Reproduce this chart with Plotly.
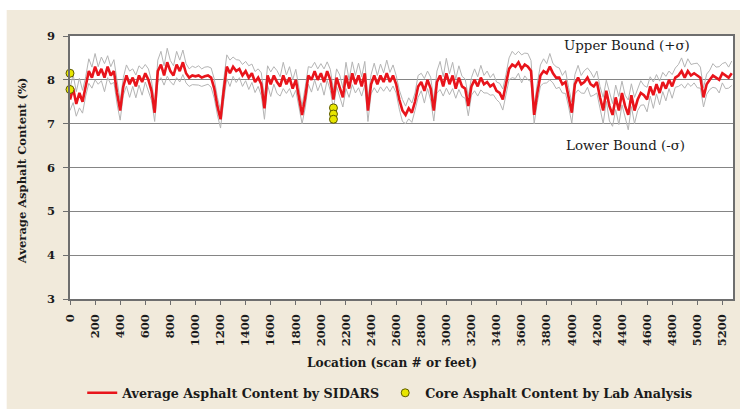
import numpy as np
import plotly.graph_objects as go

# SIDARS scan: average asphalt content sampled every 25 ft
SCAN_STEP_FT = 25
avg_content = [
    7.55, 7.8, 7.45, 7.7, 7.5,
    7.85, 8.2, 8.05, 8.3, 8.1, 8.25, 8.05, 8.3, 8.1, 8.2,
    7.7, 7.3, 7.85,
    8.1, 7.9, 8.05, 7.85, 8.1, 7.95, 8.15, 8.0,
    7.75, 7.25,
    8.2, 8.35, 8.1, 8.4, 8.2, 8.1, 8.35, 8.2, 8.4, 8.15,
    8.05, 8.1, 8.08, 8.1, 8.05, 8.08, 8.1, 8.05,
    7.8, 7.4, 7.1,
    7.75, 8.3, 8.15, 8.3, 8.2, 8.25, 8.1, 8.2, 8.05, 8.15,
    7.95, 8.05, 7.9,
    7.35,
    8.1, 7.9, 8.1, 7.95, 7.85, 8.1, 7.9, 8.05, 7.8, 8.0,
    7.6, 7.2,
    7.6, 8.1, 8.0, 8.2, 8.0, 8.15, 7.95, 8.2, 8.0,
    7.55,
    8.05, 7.85, 7.6, 8.1, 7.8, 8.15, 7.9, 8.1, 7.85, 8.15,
    7.3,
    7.9, 8.1, 7.9, 8.1, 7.95, 8.15, 7.95, 8.1, 7.9,
    7.55, 7.3, 7.2, 7.35, 7.25, 7.5,
    7.85, 7.95, 7.75, 8.0, 7.8,
    7.3,
    7.95, 8.1, 7.85, 8.15, 7.9, 8.1, 7.8, 8.05, 7.85,
    7.8, 7.4,
    7.85, 8.0, 7.85, 8.05, 7.9, 7.95, 7.85, 7.9, 7.75, 7.7,
    7.55,
    7.9,
    8.25, 8.35, 8.3, 8.4, 8.25, 8.35, 8.3, 8.2,
    7.2,
    7.7,
    8.1, 8.2, 8.15, 8.3, 8.15, 8.05,
    8.05, 7.9, 7.95, 7.6,
    7.25,
    7.9, 8.05, 7.9, 7.95, 8.05, 7.9, 7.85, 7.95,
    7.6, 7.3, 7.75, 7.4, 7.2, 7.6, 7.3, 7.7, 7.4, 7.2, 7.65, 7.3, 7.55, 7.7,
    7.65, 7.55, 7.85, 7.65, 7.9, 7.7, 7.95, 7.8, 8.0, 7.85, 8.05,
    8.1, 8.2, 8.05, 8.2, 8.1, 8.15, 8.1, 8.05,
    7.6,
    7.9,
    8.0, 8.1, 8.05, 8.0, 8.15, 8.1, 8.05, 8.15,
]

# standard deviation of each scan (bounds are average +/- sigma)
sigma = [
    0.25, 0.32, 0.28, 0.34, 0.26,
    0.22, 0.28, 0.24, 0.3, 0.2, 0.27, 0.32, 0.25, 0.2, 0.26,
    0.25, 0.22, 0.2,
    0.24, 0.3, 0.2, 0.26, 0.22, 0.3, 0.2, 0.25,
    0.22, 0.2,
    0.25, 0.3, 0.22, 0.32, 0.24, 0.22, 0.3, 0.25, 0.28, 0.22,
    0.2, 0.21, 0.2, 0.22, 0.2, 0.21, 0.2, 0.22,
    0.22, 0.2, 0.2,
    0.24, 0.27, 0.3, 0.22, 0.26, 0.2, 0.25, 0.22, 0.27, 0.21,
    0.24, 0.2, 0.26,
    0.25,
    0.22, 0.28, 0.2, 0.26, 0.22, 0.3, 0.21, 0.25, 0.2, 0.24,
    0.22, 0.2,
    0.24, 0.2, 0.28, 0.2, 0.25, 0.22, 0.3, 0.21, 0.24,
    0.22,
    0.2, 0.26, 0.22, 0.3, 0.2, 0.26, 0.2, 0.28, 0.22, 0.27,
    0.25,
    0.22, 0.28, 0.2, 0.26, 0.21, 0.3, 0.22, 0.24, 0.2,
    0.22, 0.25, 0.2, 0.24, 0.22, 0.2,
    0.25, 0.2, 0.28, 0.2, 0.26,
    0.24,
    0.25, 0.32, 0.22, 0.34, 0.24, 0.3, 0.22, 0.27, 0.23,
    0.22, 0.22,
    0.2, 0.25, 0.22, 0.28, 0.2, 0.25, 0.2, 0.24, 0.2, 0.22,
    0.24,
    0.22,
    0.25, 0.3, 0.27, 0.25, 0.32, 0.26, 0.3, 0.24,
    0.2,
    0.22,
    0.24, 0.28, 0.22, 0.3, 0.22, 0.25,
    0.22, 0.2, 0.26, 0.22,
    0.24,
    0.22, 0.28, 0.2, 0.26, 0.22, 0.28, 0.2, 0.25,
    0.25, 0.3, 0.24, 0.34, 0.26, 0.28, 0.32, 0.27, 0.25, 0.34, 0.26, 0.3, 0.25, 0.28,
    0.22, 0.28, 0.22, 0.3, 0.22, 0.27, 0.22, 0.28, 0.2, 0.27, 0.22,
    0.25, 0.3, 0.24, 0.28, 0.25, 0.22, 0.28, 0.24,
    0.22,
    0.23,
    0.22, 0.27, 0.24, 0.3, 0.22, 0.3, 0.24, 0.28,
]

# lab-analysed cores
core_location = [0, 0, 2100, 2100, 2100]
core_content = [8.15, 7.78, 7.36, 7.22, 7.1]

x_tick_values = list(range(0, 5201, 200))
y_tick_values = [3, 4, 5, 6, 7, 8, 9]

location = np.arange(len(avg_content)) * SCAN_STEP_FT
avg = np.array(avg_content)
sig = np.array(sigma)
upper = avg + sig
lower = avg - sig

SERIF = "DejaVu Serif"
TXT = "#1a1a1a"

fig = go.Figure()
fig.add_trace(go.Scatter(x=location, y=upper, mode="lines",
                         line=dict(color="#b4b4b4", width=1),
                         showlegend=False, hoverinfo="skip"))
fig.add_trace(go.Scatter(x=location, y=lower, mode="lines",
                         line=dict(color="#b4b4b4", width=1),
                         showlegend=False, hoverinfo="skip"))
fig.add_trace(go.Scatter(x=location, y=avg, mode="lines",
                         name="Average Asphalt Content by SIDARS",
                         line=dict(color="#e8141b", width=2.6)))
fig.add_trace(go.Scatter(x=core_location, y=core_content, mode="markers",
                         name="Core Asphalt Content by Lab Analysis",
                         marker=dict(color="#e8e600", size=8,
                                     line=dict(color="#5c5a00", width=1)),
                         cliponaxis=False))

fig.add_annotation(x=4440, y=8.78, text="Upper Bound (+σ)", showarrow=False,
                   font=dict(family=SERIF, size=13.4, color=TXT))
fig.add_annotation(x=4425, y=6.5, text="Lower Bound (-σ)", showarrow=False,
                   font=dict(family=SERIF, size=13.4, color=TXT))

# axis titles
fig.add_annotation(xref="paper", yref="paper", x=0.4857, y=-0.243,
                   xanchor="center", yanchor="middle",
                   text="Location (scan # or feet)", showarrow=False,
                   font=dict(family=SERIF, size=12.2, color=TXT, weight="bold"))
fig.add_annotation(xref="paper", yref="paper", x=-0.0724, y=0.49,
                   xanchor="center", yanchor="middle",
                   text="Average Asphalt Content (%)", showarrow=False,
                   textangle=-90,
                   font=dict(family=SERIF, size=11.5, color=TXT, weight="bold"))

# white strips around the beige panel
fig.add_shape(type="rect", xref="paper", yref="paper", x0=-0.2, x1=1.1,
              y0=1.0989, y1=1.2, fillcolor="white", line_width=0, layer="below")
fig.add_shape(type="rect", xref="paper", yref="paper", x0=-0.2, x1=-0.0955,
              y0=-0.5, y1=1.2, fillcolor="white", line_width=0, layer="below")

fig.update_layout(
    width=740, height=409,
    margin=dict(l=70, r=7, t=36, b=110, autoexpand=False),
    paper_bgcolor="#f1eadb",
    plot_bgcolor="white",
    font=dict(family=SERIF, color=TXT),
    showlegend=True,
    legend=dict(orientation="h", x=0.483, xanchor="center",
                yref="container", y=0.039, yanchor="middle",
                bgcolor="rgba(0,0,0,0)",
                font=dict(family=SERIF, size=12.7, color=TXT, weight="bold"),
                itemwidth=30, tracegroupgap=0),
)
fig.update_xaxes(
    range=[0, 5285], tickmode="array", tickvals=x_tick_values,
    ticktext=[str(v) for v in x_tick_values], tickangle=-90,
    ticks="outside", ticklen=4, tickcolor="#6e6e6e",
    ticklabelstandoff=5, automargin=False,
    tickfont=dict(family=SERIF, size=11.5, color=TXT, weight="bold"),
    showgrid=False, zeroline=False,
    showline=True, linecolor="#6e6e6e", linewidth=1.5, mirror=True,
)
fig.update_yaxes(
    range=[3, 9], tickmode="array", tickvals=y_tick_values,
    ticks="outside", ticklen=5, tickcolor="#6e6e6e",
    ticklabelstandoff=6, automargin=False,
    tickfont=dict(family=SERIF, size=11.5, color=TXT, weight="bold"),
    showgrid=True, gridcolor="#858585", gridwidth=1.4, zeroline=False,
    showline=True, linecolor="#6e6e6e", linewidth=1.5, mirror=True,
)

fig.write_html("out.html")
